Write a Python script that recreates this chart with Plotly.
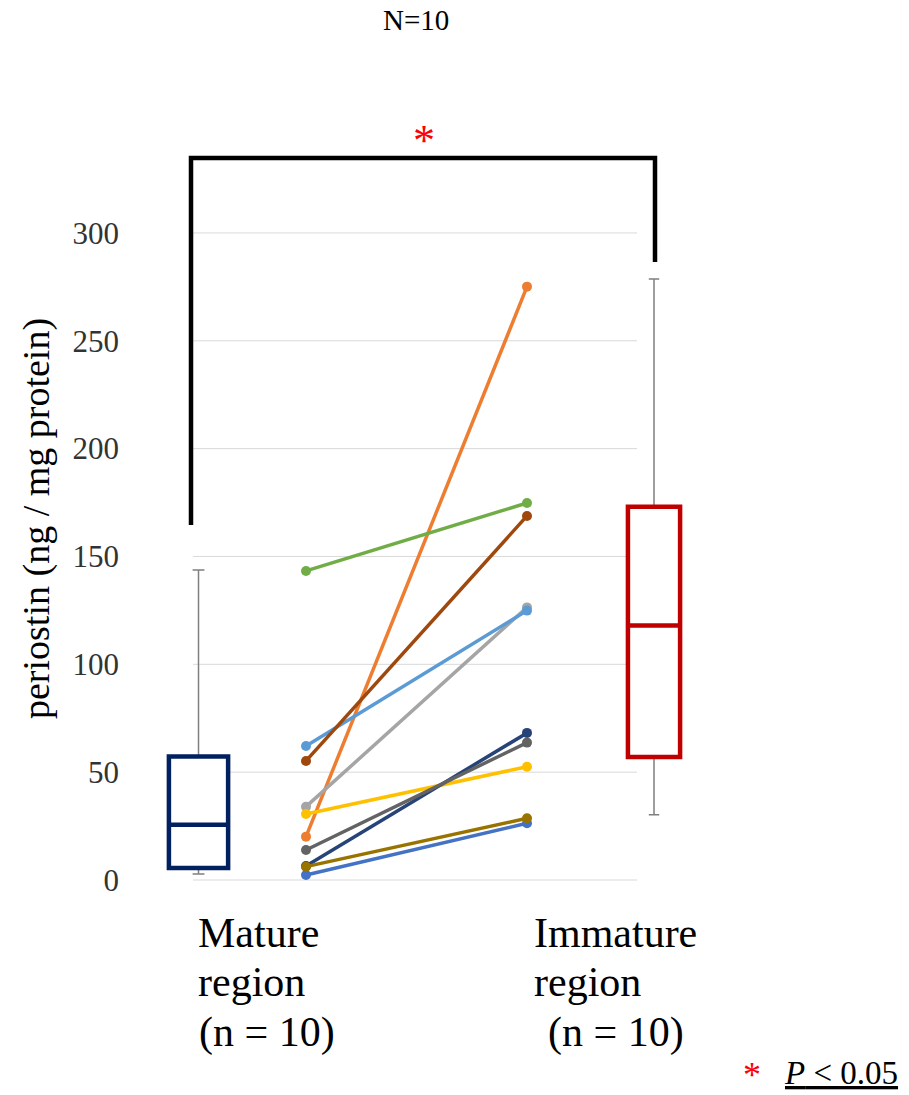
import plotly.graph_objects as go

# Paired periostin measurements per sample (ng / mg protein)
mature = [2.3, 20.1, 34.0, 30.6, 62.1, 143.3, 6.5, 55.2, 13.9, 6.2]
immature = [26.3, 275.1, 126.4, 52.5, 124.9, 174.8, 68.2, 168.8, 63.7, 28.6]
line_colors = ["#4472C4", "#ED7D31", "#A5A5A5", "#FFC000", "#5B9BD5",
               "#70AD47", "#264478", "#9E480E", "#636363", "#997300"]

# Box-plot summaries for the two regions
box_q1 = [5.6, 57.0]
box_median = [25.6, 118.0]
box_q3 = [57.3, 173.0]
box_low = [2.8, 30.3]
box_high = [143.7, 278.7]
box_colors = ["#002060", "#C00000"]

y_ticks = [0, 50, 100, 150, 200, 250, 300]

# Page geometry
W, H = 909, 1095
L, R, T, B = 150, 209, 140, 200
PW, PH = W - L - R, H - T - B
SERIF = "Liberation Serif, Times New Roman, serif"


def px_x(px):
    return (px - L) / PW


def px_y(py):
    return (H - B - py) / PH


fig = go.Figure()

# Boxes: thin grey whiskers underneath, coloured box on top
box_pos = [0.5136, 2.5747]
box_w = [0.268, 0.236]
for i in range(2):
    fig.add_trace(go.Box(
        x=[box_pos[i]], q1=[box_q1[i]], median=[box_median[i]], q3=[box_q3[i]],
        lowerfence=[box_low[i]], upperfence=[box_high[i]], orientation="v",
        width=box_w[i], whiskerwidth=0.2, boxpoints=False,
        line=dict(color="#7f7f7f", width=1.5), fillcolor="rgba(0,0,0,0)",
        showlegend=False, hoverinfo="skip"))
    fig.add_trace(go.Box(
        x=[box_pos[i]], q1=[box_q1[i]], median=[box_median[i]], q3=[box_q3[i]],
        lowerfence=[box_q1[i]], upperfence=[box_q3[i]], orientation="v",
        width=box_w[i], whiskerwidth=0, boxpoints=False,
        line=dict(color=box_colors[i], width=4.5), fillcolor="white",
        showlegend=False))

# Paired lines between regions
for k in range(len(mature)):
    fig.add_trace(go.Scatter(
        x=[1, 2], y=[mature[k], immature[k]], mode="lines+markers",
        line=dict(color=line_colors[k], width=3.5),
        marker=dict(color=line_colors[k], size=10),
        showlegend=False))

shapes = []
for v in y_ticks:
    shapes.append(dict(type="line", xref="paper", yref="y",
                       x0=px_x(193), x1=px_x(637), y0=v, y1=v,
                       line=dict(color="#d9d9d9", width=1), layer="below"))

# Significance bracket
shapes.append(dict(
    type="path", xref="paper", yref="paper",
    path=f"M {px_x(191)} {px_y(525)} L {px_x(191)} {px_y(158)} "
         f"L {px_x(655)} {px_y(158)} L {px_x(655)} {px_y(262)}",
    line=dict(color="black", width=4.5)))

annotations = []


def text(t, x, y, size, color="black", xanchor="left", yanchor="middle", angle=0):
    annotations.append(dict(text=t, x=x, y=y, xref="paper", yref="paper",
                            xanchor=xanchor, yanchor=yanchor, showarrow=False,
                            textangle=angle,
                            font=dict(family=SERIF, size=size, color=color)))


text("N=10", px_x(416), px_y(20), 29, xanchor="center")
text("*", px_x(424), px_y(140), 44, color="#FF0000", xanchor="center")
text("periostin (ng / mg protein)", px_x(36), px_y(519), 38,
     xanchor="center", angle=-90)

text("Mature", px_x(196), px_y(933), 42)
text("region", px_x(196), px_y(982), 42)
text("(n = 10)", px_x(197), px_y(1032), 42)
text("Immature", px_x(532), px_y(933), 42)
text("region", px_x(532), px_y(982), 42)
text("(n = 10)", px_x(546), px_y(1032), 42)

text("*", px_x(752), px_y(1075), 36, color="#FF0000", xanchor="center")
text("<u><i>P</i> &lt; 0.05</u>", px_x(782), px_y(1073), 33)

fig.update_layout(
    width=W, height=H,
    margin=dict(l=L, r=R, t=T, b=B),
    paper_bgcolor="white", plot_bgcolor="white",
    boxmode="overlay",
    shapes=shapes, annotations=annotations,
    xaxis=dict(range=[0.2941, 2.7828], showgrid=False, zeroline=False,
               showline=False, showticklabels=False, ticks=""),
    yaxis=dict(range=[-6.955, 343.1], tickvals=y_ticks, showgrid=False,
               zeroline=False, showline=False, ticks="",
               ticklabelstandoff=30,
               tickfont=dict(family=SERIF, size=31, color="#333333")),
)

fig.write_html("out.html")
